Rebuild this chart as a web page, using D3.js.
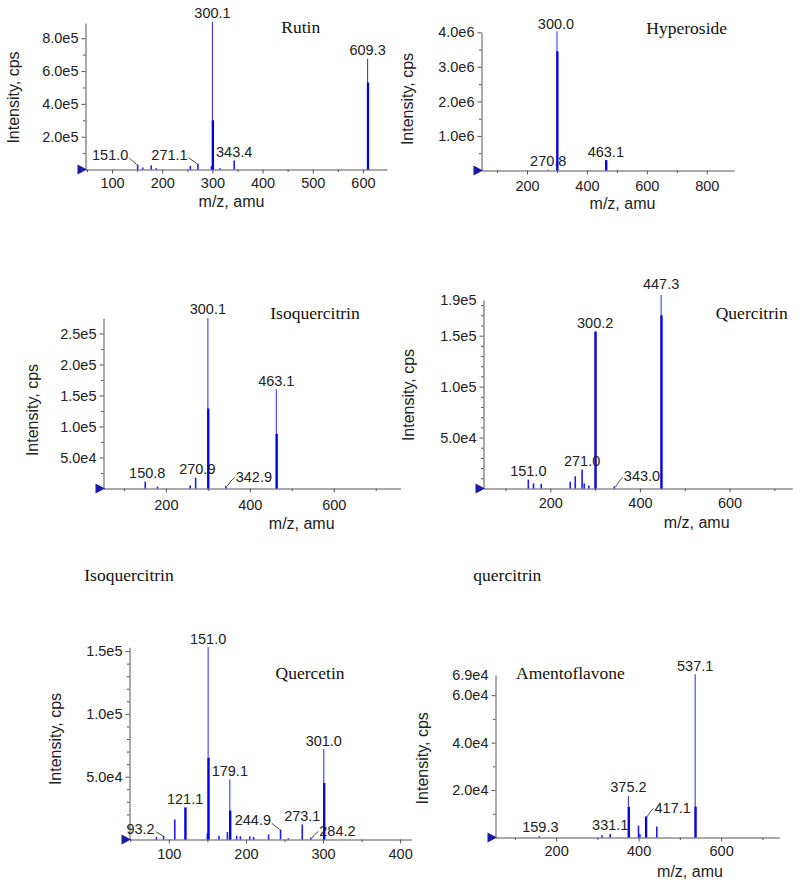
<!DOCTYPE html>
<html><head><meta charset="utf-8">
<script src="https://cdn.jsdelivr.net/npm/d3@7"></script>
<style>body{margin:0;background:#fff}</style>
</head><body>
<svg id="c" width="800" height="885"></svg>
<script>
// ---------------- DATA ----------------
// Rutin
const rutinMz   = [151.0, 161, 178, 188, 256, 271.1, 298, 300.1, 315, 343.4, 609.3];
const rutinApex = [3.0e4, 1.2e4, 2.5e4, 0.8e4, 2.2e4, 3.5e4, 2.0e4, 9.0e5, 0.7e4, 5.5e4, 6.75e5];
const rutinBody = [0, 0, 0, 0, 0, 0, 0, 3.0e5, 0, 0, 5.3e5];
const rutinLabelText = ["151.0", "271.1", "300.1", "343.4", "609.3"];
const rutinLabelMz   = [151.0, 271.1, 300.1, 343.4, 609.3];
const rutinXTicks = [100, 200, 300, 400, 500, 600];
const rutinYTicks = [2e5, 4e5, 6e5, 8e5];

// Hyperoside
const hypMz   = [270.8, 300.0, 463.1];
const hypApex = [2.0e4, 4.02e6, 3.0e5];
const hypBody = [0, 3.45e6, 3.0e5];
const hypLabelText = ["270.8", "300.0", "463.1"];
const hypLabelMz   = [270.8, 300.0, 463.1];
const hypXTicks = [200, 400, 600, 800];
const hypYTicks = [1e6, 2e6, 3e6, 4e6];

// Isoquercitrin
const isoMz   = [150.8, 180, 258, 270.9, 300.1, 342.9, 463.1];
const isoApex = [1.1e4, 3e3, 5e3, 1.75e4, 2.75e5, 4e3, 1.6e5];
const isoBody = [0, 0, 0, 0, 1.29e5, 0, 0.88e5];
const isoLabelText = ["150.8", "270.9", "300.1", "342.9", "463.1"];
const isoLabelMz   = [150.8, 270.9, 300.1, 342.9, 463.1];
const isoXTicks = [200, 400, 600];
const isoYTicks = [5e4, 1e5, 1.5e5, 2e5, 2.5e5];

// Quercitrin
const querMz   = [151.0, 162.6, 179.8, 244.5, 255.7, 271.0, 275.8, 286, 300.2, 343.0, 447.3];
const querApex = [8.8e3, 5.0e3, 4.6e3, 6.6e3, 1.2e4, 1.86e4, 5.0e3, 3.0e3, 1.54e5, 2.0e3, 1.9e5];
const querBody = [0, 0, 0, 0, 0, 0, 0, 0, 1.54e5, 0, 1.7e5];
const querLabelText = ["151.0", "271.0", "300.2", "343.0", "447.3"];
const querLabelMz   = [151.0, 271.0, 300.2, 343.0, 447.3];
const querXTicks = [200, 400, 600];
const querYTicks = [5e4, 1e5, 1.5e5];
const querTopLabel = "1.9e5";

// Quercetin
const qtnMz   = [84, 93.2, 107.7, 121.1, 150, 151.0, 165, 176, 179.1, 188, 192.8, 205, 210, 229.4, 244.9, 255, 273.1, 284.2, 301.0];
const qtnApex = [2e3, 3e3, 1.6e4, 2.55e4, 5e3, 1.53e5, 3e3, 6e3, 4.77e4, 3e3, 2.5e3, 2.5e3, 2e3, 4e3, 8e3, 1e3, 1.2e4, 1.5e3, 7.2e4];
const qtnBody = [0, 0, 0, 2.55e4, 0, 6.5e4, 0, 0, 2.3e4, 0, 0, 0, 0, 0, 0, 0, 0, 0, 4.5e4];
const qtnLabelText = ["93.2", "121.1", "151.0", "179.1", "244.9", "273.1", "284.2", "301.0"];
const qtnLabelMz   = [93.2, 121.1, 151.0, 179.1, 244.9, 273.1, 284.2, 301.0];
const qtnXTicks = [100, 200, 300, 400];
const qtnYTicks = [5e4, 1e5, 1.5e5];

// Amentoflavone
const amMz   = [159.3, 311, 331.1, 375.2, 399.7, 403, 417.1, 444, 537.1];
const amApex = [5e2, 1e3, 1.5e3, 1.75e4, 5e3, 1.5e3, 8.8e3, 4.6e3, 6.88e4];
const amBody = [0, 0, 0, 1.29e4, 0, 0, 8.8e3, 0, 1.3e4];
const amLabelText = ["159.3", "331.1", "375.2", "417.1", "537.1"];
const amLabelMz   = [159.3, 331.1, 375.2, 417.1, 537.1];
const amXTicks = [200, 400, 600];
const amYTicks = [2e4, 4e4, 6e4];
const amTopLabel = "6.9e4";

const yTitleText = "Intensity, cps";
const xTitleText = "m/z, amu";

// ---------------- LAYOUT ----------------
const panels = [
  {mz: rutinMz, apex: rutinApex, body: rutinBody, lt: rutinLabelText, lm: rutinLabelMz,
   xTicks: rutinXTicks, yTicks: rutinYTicks, xMinor: 50, yMinor: 1e5, topLabel: null,
   left: 85.5, right: 387, base: 169.5, top: 23, xDomain: [47, 648], yMax: 8.93e5, xPad: 4,
   yTitle: [13, 97.5], xTitle: [231.5, 207],
   titles: [{t: "Rutin", x: 300.7, y: 33, a: "middle"}],
   lopt: {"151.0": {dx: -27.5, dy: -4.5, leader: "back"}, "271.1": {dx: -28.4, dy: -4, leader: "back"}}},
  {mz: hypMz, apex: hypApex, body: hypBody, lt: hypLabelText, lm: hypLabelMz,
   xTicks: hypXTicks, yTicks: hypYTicks, xMinor: 100, yMinor: 5e5, topLabel: null,
   left: 481.5, right: 734, base: 170.5, top: 32.3, xDomain: [48, 891], yMax: 4.0e6, xPad: 6,
   yTitle: [407.7, 99], xTitle: [622.5, 208.5],
   titles: [{t: "Hyperoside", x: 686.7, y: 34, a: "middle"}],
   lopt: {"300.0": {dx: -1, dy: -3}}},
  {mz: isoMz, apex: isoApex, body: isoBody, lt: isoLabelText, lm: isoLabelMz,
   xTicks: isoXTicks, yTicks: isoYTicks, xMinor: 100, yMinor: 2.5e4, topLabel: null,
   left: 103.5, right: 400.5, base: 488.5, top: 318.3, xDomain: [51.4, 759], yMax: 2.745e5, xPad: 7,
   yTitle: [32.3, 410], xTitle: [301.7, 528.5],
   titles: [{t: "Isoquercitrin", x: 315, y: 319, a: "middle"}],
   lopt: {"150.8": {dx: 2, dy: -3.4}, "270.9": {dx: 1.7, dy: -3.4}, "342.9": {dx: 28, dy: -4.5, leader: "tilde"}}},
  {mz: querMz, apex: querApex, body: querBody, lt: querLabelText, lm: querLabelMz,
   xTicks: querXTicks, yTicks: querYTicks, xMinor: 100, yMinor: 1e4, topLabel: querTopLabel,
   left: 483.5, right: 792.3, base: 488.5, top: 300, xDomain: [51, 740], yMax: 1.85e5, xPad: 5,
   yTitle: [408.3, 395], xTitle: [696.7, 527.5],
   titles: [{t: "Quercitrin", x: 751.7, y: 318.5, a: "middle"}],
   lopt: {"343.0": {dx: 27.6, dy: -5, leader: "tilde"}, "447.3": {dx: 0, dy: -6}}},
  {mz: qtnMz, apex: qtnApex, body: qtnBody, lt: qtnLabelText, lm: qtnLabelMz,
   xTicks: qtnXTicks, yTicks: qtnYTicks, xMinor: 50, yMinor: 1e4, topLabel: null,
   left: 129.5, right: 411.7, base: 839.5, top: 647.3, xDomain: [49, 415], yMax: 1.53e5, xPad: 5,
   yTitle: [55, 739], xTitle: null,
   titles: [{t: "Quercetin", x: 310, y: 679.3, a: "middle"}, {t: "Isoquercitrin", x: 84.3, y: 580.7, a: "start"}],
   lopt: {"93.2": {dx: -23, dy: -2, leader: "back"}, "244.9": {dx: -27.7, dy: -4, leader: "back"},
          "284.2": {dx: 26.6, dy: -2, leader: "tilde"}}},
  {mz: amMz, apex: amApex, body: amBody, lt: amLabelText, lm: amLabelMz,
   xTicks: amXTicks, yTicks: amYTicks, xMinor: 100, yMinor: 1e4, topLabel: amTopLabel,
   left: 495.5, right: 779.3, base: 837.5, top: 675, xDomain: [53, 741], yMax: 6.85e4, xPad: 4.5,
   yTitle: [422.7, 758.3], xTitle: [690, 877],
   titles: [{t: "Amentoflavone", x: 516, y: 679, a: "start"}, {t: "quercitrin", x: 473.3, y: 580.7, a: "start"}],
   lopt: {"417.1": {dx: 27, dy: -4, leader: "tilde"}, "159.3": {dx: 1, dy: -4.5}}}
];

// ---------------- DRAW ----------------
const svg = d3.select("#c");
const SANS = "'Liberation Sans', Arial, sans-serif";
const SERIF = "'Liberation Serif', 'Times New Roman', serif";
const AXIS = "#555";
const TXT = "#222";
const fmtY = v => v.toExponential(1).replace("e+", "e");

function range(a, b, step) { const r = []; for (let v = a; v <= b + 1e-9; v += step) r.push(v); return r; }

panels.forEach(p => {
  const x = d3.scaleLinear().domain(p.xDomain).range([p.left, p.right]);
  const y = d3.scaleLinear().domain([0, p.yMax]).range([p.base, p.top]);
  const g = svg.append("g");

  // minor ticks
  const xMinorVals = range(Math.ceil(p.xDomain[0] / p.xMinor) * p.xMinor, p.xDomain[1], p.xMinor)
    .filter(v => !p.xTicks.includes(v));
  const yMinorVals = range(p.yMinor, p.yMax, p.yMinor).filter(v => !p.yTicks.some(t => Math.abs(t - v) < 1));
  g.append("g").attr("transform", `translate(0,${p.base})`)
    .call(d3.axisBottom(x).tickValues(xMinorVals).tickSize(2.5).tickSizeOuter(0).tickFormat(""))
    .call(s => s.select(".domain").remove());
  g.append("g").attr("transform", `translate(${p.left},0)`)
    .call(d3.axisLeft(y).tickValues(yMinorVals).tickSize(2.5).tickSizeOuter(0).tickFormat(""))
    .call(s => s.select(".domain").remove());

  // major axes
  const gx = g.append("g").attr("transform", `translate(0,${p.base})`)
    .call(d3.axisBottom(x).tickValues(p.xTicks).tickSize(4).tickSizeOuter(0).tickPadding(p.xPad).tickFormat(d3.format("d")));
  const gy = g.append("g").attr("transform", `translate(${p.left},0)`)
    .call(d3.axisLeft(y).tickValues(p.yTicks).tickSize(4).tickSizeOuter(0).tickPadding(3).tickFormat(fmtY));
  [gx, gy].forEach(a => {
    a.selectAll("text").attr("font-family", SANS).attr("font-size", 14.5).attr("fill", TXT);
  });
  g.selectAll(".domain, .tick line").attr("stroke", AXIS).attr("stroke-width", 1);

  if (p.topLabel) {
    g.append("text").attr("x", p.left - 7).attr("y", y(p.yMax)).attr("dy", "0.32em")
      .attr("text-anchor", "end").attr("font-family", SANS).attr("font-size", 14.5).attr("fill", TXT)
      .text(p.topLabel);
  }

  // origin marker
  const ox = x(p.xDomain[0]);
  g.append("path").attr("d", `M${ox - 8},${p.base - 5}L${ox + 1.5},${p.base}L${ox - 8},${p.base + 5}Z`)
    .attr("fill", "#1a1aa8");

  // peaks
  const peaks = p.mz.map((m, i) => ({m, a: p.apex[i], b: p.body[i]}));
  g.selectAll("line.apex").data(peaks).join("line").attr("class", "apex")
    .attr("x1", d => x(d.m)).attr("x2", d => x(d.m))
    .attr("y1", p.base).attr("y2", d => y(d.a))
    .attr("stroke", d => d.b > 0 ? "#3a3aff" : "#1c1cff").attr("stroke-width", d => d.b > 0 ? 1.1 : 1.6);
  g.selectAll("line.body").data(peaks.filter(d => d.b > 0)).join("line").attr("class", "body")
    .attr("x1", d => x(d.m) + 0.4).attr("x2", d => x(d.m) + 0.4)
    .attr("y1", p.base).attr("y2", d => y(d.b))
    .attr("stroke", "#0000e6").attr("stroke-width", 2.3);

  // peak labels
  p.lt.forEach((t, i) => {
    const m = p.lm[i];
    const idx = p.mz.indexOf(m);
    const top = y(idx >= 0 ? p.apex[idx] : 0);
    const px = x(m);
    const o = p.lopt[t] || {dx: 0, dy: -3.5};
    const tx = px + o.dx, ty = top + o.dy;
    const el = g.append("text").attr("x", tx).attr("y", ty).attr("text-anchor", "middle")
      .attr("font-family", SANS).attr("font-size", 14.5).attr("fill", TXT).text(t);
    const w = el.node().getComputedTextLength();
    if (o.leader === "back") {
      g.append("path").attr("d", `M${tx + w / 2 + 1},${ty - 2}L${px - 1},${top}`)
        .attr("stroke", "#333").attr("stroke-width", 0.9).attr("fill", "none");
    } else if (o.leader === "tilde") {
      const lx = tx - w / 2 - 1;
      g.append("path").attr("d", `M${px + 1},${top + 0.5}C${px + 4},${top - 3} ${lx - 4},${ty - 1} ${lx},${ty - 4}`)
        .attr("stroke", "#333").attr("stroke-width", 0.9).attr("fill", "none");
    }
  });

  // axis titles
  g.append("text").attr("transform", `translate(${p.yTitle[0]},${p.yTitle[1]}) rotate(-90)`)
    .attr("text-anchor", "middle").attr("dy", "0.35em")
    .attr("font-family", SANS).attr("font-size", 16).attr("fill", TXT).text(yTitleText);
  if (p.xTitle) {
    g.append("text").attr("x", p.xTitle[0]).attr("y", p.xTitle[1]).attr("text-anchor", "middle")
      .attr("font-family", SANS).attr("font-size", 16).attr("fill", TXT).text(xTitleText);
  }

  // titles
  p.titles.forEach(tt => {
    g.append("text").attr("x", tt.x).attr("y", tt.y).attr("text-anchor", tt.a)
      .attr("font-family", SERIF).attr("font-size", 17.5).attr("fill", "#111").text(tt.t);
  });
});
</script>
</body></html>
